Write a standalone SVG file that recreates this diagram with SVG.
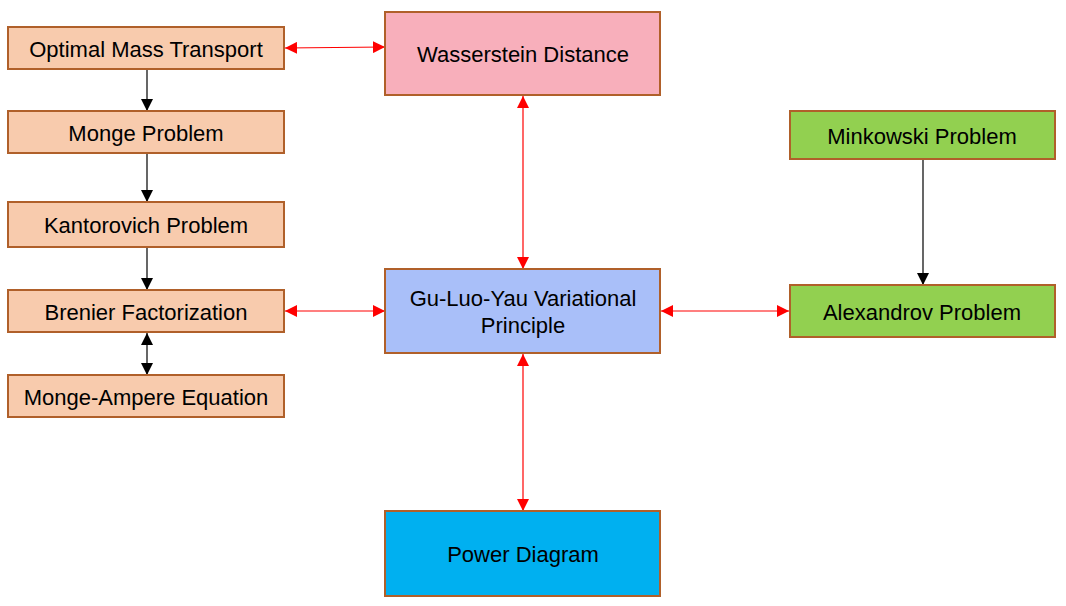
<svg xmlns="http://www.w3.org/2000/svg" width="1066" height="606" viewBox="0 0 1066 606">
<style>
rect{stroke:#B0602A;stroke-width:2}
text{font-family:"Liberation Sans",Arial,sans-serif;font-size:22px;fill:#000;text-anchor:middle;dominant-baseline:central}
.p{fill:#F8CBAD}
.r{stroke:#FF0000;stroke-width:1.2;fill:none}
.b{stroke:#000;stroke-width:1.2;fill:none}
</style>
<defs>
<marker id="re" markerUnits="userSpaceOnUse" markerWidth="12" markerHeight="12" viewBox="0 0 10 10" refX="10" refY="5" orient="auto-start-reverse"><path d="M0,0L10,5L0,10z" fill="#FF0000"/></marker>
<marker id="be" markerUnits="userSpaceOnUse" markerWidth="12" markerHeight="12" viewBox="0 0 10 10" refX="10" refY="5" orient="auto-start-reverse"><path d="M0,0L10,5L0,10z" fill="#000"/></marker>
</defs>
<rect width="1066" height="606" fill="#fff" style="stroke:none"/>
<g id="connectors">
<line class="r" x1="285" y1="48" x2="385" y2="47" marker-start="url(#re)" marker-end="url(#re)"/>
<line class="b" x1="147" y1="70" x2="147" y2="111" marker-end="url(#be)"/>
<line class="b" x1="147" y1="154" x2="147" y2="202" marker-end="url(#be)"/>
<line class="b" x1="147" y1="248" x2="147" y2="290" marker-end="url(#be)"/>
<line class="b" x1="147" y1="333" x2="147" y2="375" marker-start="url(#be)" marker-end="url(#be)"/>
<line class="r" x1="285" y1="311" x2="385" y2="311" marker-start="url(#re)" marker-end="url(#re)"/>
<line class="r" x1="661" y1="311" x2="789" y2="311" marker-start="url(#re)" marker-end="url(#re)"/>
<line class="r" x1="523" y1="96" x2="523" y2="269" marker-start="url(#re)" marker-end="url(#re)"/>
<line class="r" x1="523" y1="354" x2="523" y2="511" marker-start="url(#re)" marker-end="url(#re)"/>
<line class="b" x1="923" y1="160" x2="923" y2="285" marker-end="url(#be)"/>
</g>
<g id="omt"><rect class="p" x="8" y="27" width="276" height="42"/><text x="146" y="49">Optimal Mass Transport</text></g>
<g id="monge"><rect class="p" x="8" y="111" width="276" height="42"/><text x="146" y="133">Monge Problem</text></g>
<g id="kantorovich"><rect class="p" x="8" y="202" width="276" height="45"/><text x="146" y="225">Kantorovich Problem</text></g>
<g id="brenier"><rect class="p" x="8" y="290" width="276" height="42"/><text x="146" y="312">Brenier Factorization</text></g>
<g id="mongeampere"><rect class="p" x="8" y="375" width="276" height="42"/><text x="146" y="397">Monge-Ampere Equation</text></g>
<g id="wasserstein"><rect fill="#F8AFBB" x="385" y="12" width="275" height="83"/><text x="523" y="54">Wasserstein Distance</text></g>
<g id="gly"><rect fill="#A9BFF9" x="385" y="269" width="275" height="84"/><text x="523" y="298">Gu-Luo-Yau Variational</text><text x="523" y="325">Principle</text></g>
<g id="power"><rect fill="#00B0F0" x="385" y="511" width="275" height="85"/><text x="523" y="554">Power Diagram</text></g>
<g id="minkowski"><rect fill="#92D050" x="790" y="111" width="265" height="48"/><text x="922" y="136">Minkowski Problem</text></g>
<g id="alexandrov"><rect fill="#92D050" x="790" y="285" width="265" height="52"/><text x="922" y="312">Alexandrov Problem</text></g>
</svg>
